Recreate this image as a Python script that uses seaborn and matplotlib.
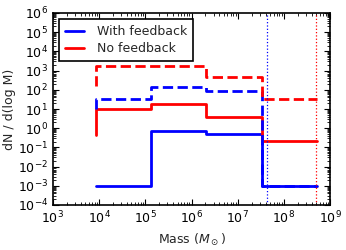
import numpy as np
import pandas as pd
import matplotlib
matplotlib.use('Agg')
import matplotlib.pyplot as plt
import seaborn as sns

# bin edges (log-spaced mass bins), step drawn 'pre' style
mass_edges = [8.5e3, 1.32e5, 2.1e6, 3.3e7, 5.2e8]

# first value only sets where the left vertical starts
with_fb_solid = [1e-3, 1e-3, 0.68, 0.52, 1e-3]
with_fb_dashed = [10, 33, 140, 85, 1e-3]
no_fb_solid = [0.45, 10, 18, 3.8, 0.22]
no_fb_dashed = [150, 1700, 1700, 490, 33]

blue_limit = 4.3e7
red_limit = 5.0e8

sns.set_style('ticks')
plt.rcParams['font.family'] = ['DejaVu Sans']
plt.rcParams['xtick.direction'] = 'in'
plt.rcParams['ytick.direction'] = 'in'

fig = plt.figure(figsize=(3.46, 2.5), dpi=100)
ax = fig.add_axes([0.153, 0.18, 0.801, 0.768])

series = [
    (with_fb_solid, 'blue', '-', 'With feedback'),
    (no_fb_solid, 'red', '-', 'No feedback'),
    (with_fb_dashed, 'blue', '--', None),
    (no_fb_dashed, 'red', '--', None),
]
for vals, col, ls, lab in series:
    df = pd.DataFrame({'mass': mass_edges, 'dn': vals})
    sns.lineplot(data=df, x='mass', y='dn', ax=ax, color=col, linestyle=ls,
                 drawstyle='steps-pre', lw=2, sort=False, estimator=None,
                 label=lab, legend=False)

ax.axvline(blue_limit, color='blue', ls=':', lw=0.9)
ax.axvline(red_limit, color='red', ls=':', lw=0.9)

ax.set_xscale('log')
ax.set_yscale('log')
ax.set_xlim(1e3, 1e9)
ax.set_ylim(1e-4, 1e6)
ax.set_xticks([10.0**k for k in range(3, 10)])
ax.set_yticks([10.0**k for k in range(-4, 7)])
ax.yaxis.set_minor_locator(matplotlib.ticker.LogLocator(subs=np.arange(2, 10), numticks=20))
ax.tick_params(which='both', top=True, right=True, labelsize=9, colors='black')
ax.tick_params(which='major', length=4, width=0.8)
ax.tick_params(which='minor', length=2, width=0.6)
for s in ax.spines.values():
    s.set_color('black')
    s.set_linewidth(1.2)

ax.set_xlabel(r'Mass ($M_\odot$)', fontsize=9)
ax.set_ylabel('dN / d(log M)', fontsize=9, labelpad=1)

leg = ax.legend(loc='upper left', fontsize=9, fancybox=False, framealpha=1,
                borderpad=0.45, handlelength=1.5, handletextpad=1.1,
                labelspacing=0.35)
leg.get_frame().set_edgecolor('black')
leg.get_frame().set_linewidth(1.2)

fig.savefig('out.png', dpi=100)
